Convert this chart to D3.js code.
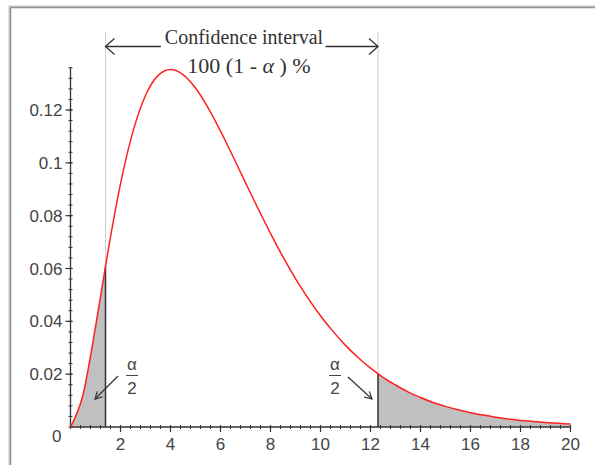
<!DOCTYPE html>
<html>
<head>
<meta charset="utf-8">
<script src="https://cdn.jsdelivr.net/npm/d3@7/dist/d3.min.js"></script>
<style>
  html, body { margin: 0; padding: 0; background: #fff; }
  svg { display: block; }
</style>
</head>
<body>
<svg id="chart" width="595" height="465"></svg>
<script>
// Density curve values
const xValues = [0, 0.5, 1, 1.4, 1.5, 2, 2.5, 3, 3.5, 4, 4.5, 5, 5.5, 6, 6.5, 7, 7.5, 8, 8.5, 9, 9.5, 10,
                 10.5, 11, 11.5, 12, 12.3, 12.5, 13, 13.5, 14, 14.5, 15, 15.5, 16, 16.5, 17, 17.5, 18, 18.5, 19, 19.5, 20];
const yValues = [0, 0.0122, 0.0379, 0.0608, 0.0664, 0.0920, 0.1119, 0.1255, 0.1330, 0.1353, 0.1334, 0.1283,
                 0.1209, 0.1120, 0.1024, 0.0925, 0.0827, 0.0733, 0.0644, 0.0562, 0.0488, 0.0421,
                 0.0362, 0.0309, 0.0263, 0.0223, 0.0202, 0.0188, 0.0159, 0.0133, 0.0112, 0.0093, 0.0078,
                 0.0065, 0.0054, 0.0045, 0.0037, 0.0030, 0.0025, 0.0021, 0.0017, 0.0014, 0.0011];
const lowerCut = 1.4;
const upperCut = 12.3;
const xTickValues = [2, 4, 6, 8, 10, 12, 14, 16, 18, 20];
const yTickValues = [0.02, 0.04, 0.06, 0.08, 0.1, 0.12];
const titleLine1 = "Confidence interval";
const titleLine2a = "100 (1 - ";
const titleLine2b = "\u03B1";
const titleLine2c = " ) %";

const svg = d3.select("#chart");
const x = d3.scaleLinear().domain([0, 20]).range([70.5, 570.5]);
const y = d3.scaleLinear().domain([0, 0.12]).range([427, 110]);

const pts = xValues.map((v, i) => ({x: v, y: yValues[i]}));

// frame
svg.append("path").attr("d", "M10,470 L10,7 L600,7")
  .attr("fill", "none").attr("stroke", "#c4c4c4").attr("stroke-width", 3);
svg.append("path").attr("d", "M10.5,470 L10.5,7.5 L600,7.5")
  .attr("fill", "none").attr("stroke", "#8f8f8f").attr("stroke-width", 1);

// shaded tails
const area = d3.area().x(d => x(d.x)).y0(y(0)).y1(d => y(d.y)).curve(d3.curveMonotoneX);
svg.append("path").datum(pts.filter(d => d.x <= lowerCut))
  .attr("d", area).attr("fill", "#c0c0c0");
svg.append("path").datum(pts.filter(d => d.x >= upperCut))
  .attr("d", area).attr("fill", "#c0c0c0");

// grey guide lines
[lowerCut, upperCut].forEach(c => {
  svg.append("line").attr("x1", x(c)).attr("x2", x(c)).attr("y1", 32).attr("y2", y(0))
    .attr("stroke", "#cfcfcf").attr("stroke-width", 1);
});
// black cut lines
[lowerCut, upperCut].forEach(c => {
  const v = yValues[xValues.indexOf(c)];
  svg.append("line").attr("x1", x(c)).attr("x2", x(c)).attr("y1", y(v)).attr("y2", y(0))
    .attr("stroke", "#333").attr("stroke-width", 1.5);
});

// axes
const axisColor = "#333";
const labelFont = "Liberation Sans, Arial, sans-serif";
const xAxis = svg.append("g").attr("transform", `translate(0,${y(0)})`);
xAxis.append("line").attr("x1", x(0)).attr("x2", x(20)).attr("stroke", axisColor).attr("stroke-width", 1.3);
const xMinor = d3.range(0, 20.001, 0.4);
xAxis.selectAll(".xm").data(xMinor).enter().append("line")
  .attr("x1", d => x(d)).attr("x2", d => x(d)).attr("y1", -2).attr("y2", 2)
  .attr("stroke", axisColor).attr("stroke-width", 1);
xAxis.selectAll(".xM").data(xTickValues).enter().append("line")
  .attr("x1", d => x(d)).attr("x2", d => x(d)).attr("y1", -2).attr("y2", 5)
  .attr("stroke", axisColor).attr("stroke-width", 1.2);
xAxis.selectAll(".xl").data(xTickValues).enter().append("text")
  .attr("x", d => x(d)).attr("y", 23).attr("text-anchor", "middle")
  .attr("font-family", labelFont).attr("font-size", 17)
  .attr("fill", "#444").text(d => d);

const yAxis = svg.append("g").attr("transform", `translate(${x(0)},0)`);
yAxis.append("line").attr("y1", y(0)).attr("y2", y(0.136)).attr("stroke", axisColor).attr("stroke-width", 1.3);
const yMinor = d3.range(0, 0.1361, 0.004);
yAxis.selectAll(".ym").data(yMinor).enter().append("line")
  .attr("y1", d => y(d)).attr("y2", d => y(d)).attr("x1", -2).attr("x2", 2)
  .attr("stroke", axisColor).attr("stroke-width", 1);
yAxis.selectAll(".yM").data(yTickValues).enter().append("line")
  .attr("y1", d => y(d)).attr("y2", d => y(d)).attr("x1", -5).attr("x2", 2)
  .attr("stroke", axisColor).attr("stroke-width", 1.2);
yAxis.selectAll(".yl").data(yTickValues).enter().append("text")
  .attr("x", -8).attr("y", d => y(d)).attr("dy", "0.36em").attr("text-anchor", "end")
  .attr("font-family", labelFont).attr("font-size", 17)
  .attr("fill", "#444").text(d => d);
yAxis.append("text").attr("x", -9).attr("y", y(0) + 15).attr("text-anchor", "end")
  .attr("font-family", labelFont).attr("font-size", 17)
  .attr("fill", "#444").text("0");

// density curve
const line = d3.line().x(d => x(d.x)).y(d => y(d.y)).curve(d3.curveMonotoneX);
svg.append("path").datum(pts).attr("d", line)
  .attr("fill", "none").attr("stroke", "#ff2020").attr("stroke-width", 1.5);

// confidence interval arrow
const arrowY = 46.5;
const ax1 = x(lowerCut), ax2 = x(upperCut);
const t1 = svg.append("text").attr("x", 244).attr("y", 44).attr("text-anchor", "middle")
  .attr("font-family", "Liberation Serif, Times New Roman, serif").attr("font-size", 20)
  .attr("fill", "#333").text(titleLine1);
const bb = t1.node().getBBox();
svg.append("line").attr("x1", ax1).attr("x2", bb.x - 4).attr("y1", arrowY).attr("y2", arrowY)
  .attr("stroke", "#333").attr("stroke-width", 1.3);
svg.append("line").attr("x1", bb.x + bb.width + 2).attr("x2", ax2).attr("y1", arrowY).attr("y2", arrowY)
  .attr("stroke", "#333").attr("stroke-width", 1.3);
svg.append("path").attr("d", `M${ax1 + 9},${arrowY - 8} L${ax1},${arrowY} L${ax1 + 9},${arrowY + 8}`)
  .attr("fill", "none").attr("stroke", "#333").attr("stroke-width", 1.3);
svg.append("path").attr("d", `M${ax2 - 9},${arrowY - 8} L${ax2},${arrowY} L${ax2 - 9},${arrowY + 8}`)
  .attr("fill", "none").attr("stroke", "#333").attr("stroke-width", 1.3);
const t2 = svg.append("text").attr("x", 249).attr("y", 73).attr("text-anchor", "middle")
  .attr("font-family", "Liberation Serif, Times New Roman, serif").attr("font-size", 22)
  .attr("fill", "#333").attr("xml:space", "preserve");
t2.append("tspan").text(titleLine2a);
t2.append("tspan").attr("font-style", "italic").text(titleLine2b);
t2.append("tspan").text(titleLine2c);

// alpha/2 labels
function fracLabel(cx) {
  const g = svg.append("g").attr("font-family", labelFont)
    .attr("font-size", 17).attr("fill", "#444").attr("text-anchor", "middle");
  g.append("text").attr("x", cx).attr("y", 370).text("\u03B1");
  g.append("line").attr("x1", cx - 6).attr("x2", cx + 6).attr("y1", 375.5).attr("y2", 375.5)
    .attr("stroke", "#444").attr("stroke-width", 1);
  g.append("text").attr("x", cx).attr("y", 394).text("2");
}
fracLabel(132);
fracLabel(335);

function pointer(x1, y1, x2, y2) {
  svg.append("line").attr("x1", x1).attr("y1", y1).attr("x2", x2).attr("y2", y2)
    .attr("stroke", "#333").attr("stroke-width", 1.2);
  const ang = Math.atan2(y2 - y1, x2 - x1);
  const L = 8, w = 0.5;
  const p1 = [x2 - L * Math.cos(ang - w), y2 - L * Math.sin(ang - w)];
  const p2 = [x2 - L * Math.cos(ang + w), y2 - L * Math.sin(ang + w)];
  svg.append("path").attr("d", `M${p1[0]},${p1[1]} L${x2},${y2} L${p2[0]},${p2[1]}`)
    .attr("fill", "none").attr("stroke", "#333").attr("stroke-width", 1.2);
}
pointer(118, 376, 95, 399);
pointer(348, 377, 372, 399);
</script>
</body>
</html>
